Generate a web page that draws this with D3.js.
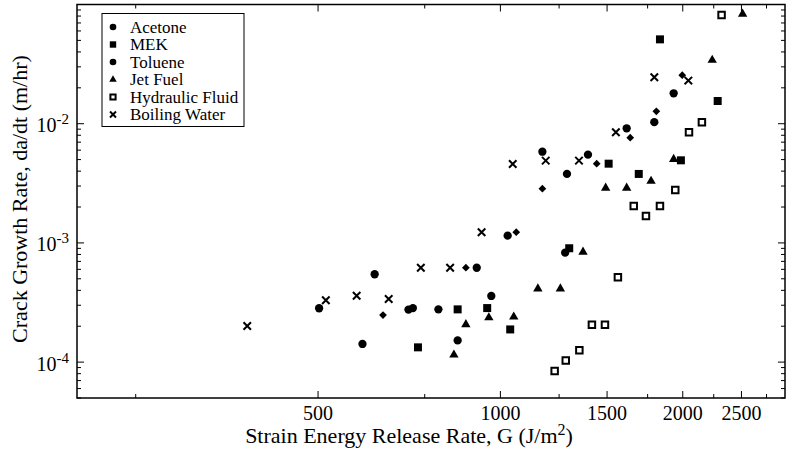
<!DOCTYPE html>
<html>
<head>
<meta charset="utf-8">
<script src="https://cdn.jsdelivr.net/npm/d3@7"></script>
<style>
body{margin:0;background:#fff;}
svg text{font-family:"Liberation Serif","Times New Roman","DejaVu Serif",serif;fill:#000;}
</style>
</head>
<body>
<div id="chart"></div>
<script>

//data: [G (J/m2), da/dt (m/hr)]
let acetone=[[502,2.83e-4],[620,5.46e-4],[592,1.42e-4],[705,2.76e-4],[717,2.84e-4],[790,2.77e-4],[850,1.52e-4],[914,6.19e-4],[966,3.59e-4],[1028,1.15e-3],[1279,8.28e-4],[1173,5.82e-3],[1288,3.79e-3],[1395,5.50e-3],[1616,9.15e-3],[1795,1.03e-2],[1932,1.80e-2]];
let mek=[[731,1.33e-4],[850,2.77e-4],[951,2.84e-4],[1038,1.88e-4],[1299,9.02e-4],[1509,4.62e-3],[1692,3.79e-3],[1986,4.93e-3],[2284,1.55e-2],[1834,5.10e-2]];
let toluene=[[640,2.48e-4],[877,6.19e-4],[1062,1.23e-3],[1173,2.85e-3],[1442,4.62e-3],[1638,7.64e-3],[1809,1.27e-2],[1996,2.55e-2]];
let jetFuel=[[838,1.15e-4],[877,2.07e-4],[957,2.36e-4],[1052,2.40e-4],[1153,4.13e-4],[1256,4.13e-4],[1369,8.40e-4],[1492,2.89e-3],[1616,2.89e-3],[1773,3.30e-3],[1932,5.03e-3],[2237,3.42e-2],[2511,8.33e-2]];
let hydraulic=[[1229,8.42e-5],[1282,1.03e-4],[1350,1.26e-4],[1416,2.06e-4],[1488,2.06e-4],[1563,5.15e-4],[1660,2.04e-3],[1739,1.68e-3],[1834,2.04e-3],[1944,2.78e-3],[2048,8.47e-3],[2151,1.03e-2],[2318,8.17e-2]];
let boilingWater=[[382,2.01e-4],[515,3.30e-4],[579,3.60e-4],[654,3.38e-4],[739,6.19e-4],[826,6.19e-4],[931,1.23e-3],[1048,4.59e-3],[1188,4.90e-3],[1348,4.90e-3],[1551,8.47e-3],[1795,2.45e-2],[2043,2.30e-2]];

let seriesNames=[`Acetone`,`MEK`,`Toluene`,`Jet Fuel`,`Hydraulic Fluid`,`Boiling Water`];
let legendMarks=[`circle`,`square`,`circle`,`triangle`,`open`,`x`];

let xMajor=[500,1000,1500,2000,2500];
let xMinor=[250,750,1250,1750,2250,2750];
let yMajor=[1e-4,1e-3,1e-2];
let yMajorLabels=[`-4`,`-3`,`-2`];

//settings
let W=786,H=459;
let margin={left:77,top:4.5,right:1,bottom:61};
let width=W-margin.left-margin.right;
let height=H-margin.top-margin.bottom;
let serif=`"Liberation Serif","Times New Roman","DejaVu Serif",serif`;

let svg=d3.select(`#chart`).append(`svg`)
    .attr(`width`,W)
    .attr(`height`,H)
    .attr(`font-family`,serif);

let graph=svg.append(`g`)
    .attr(`transform`,`translate(`+margin.left+`,`+margin.top+`)`);

let x=d3.scaleLog().domain([200,2950]).range([0,width]);
let y=d3.scaleLog().domain([5e-5,0.1]).range([height,0]);

//minor y ticks 2..9 in each decade
let yMinor=[];
[1e-5,1e-4,1e-3,1e-2].forEach(d=>{
    for(let k=2;k<=9;k++){
        let v=d*k;
        if(v>=5e-5&&v<=0.1) yMinor.push(v);
    }
});

//frame
graph.append(`rect`)
    .attr(`width`,width)
    .attr(`height`,height)
    .attr(`fill`,`none`)
    .attr(`stroke`,`#000`)
    .attr(`stroke-width`,1.5);

//ticks, pointing inward on all four sides
function xTicks(vals,len){
    let g=graph.append(`g`).attr(`class`,`x ticks`);
    g.selectAll(`line.b`).data(vals).enter().append(`line`)
        .attr(`x1`,d=>x(d)).attr(`x2`,d=>x(d))
        .attr(`y1`,height).attr(`y2`,height-len)
        .attr(`stroke`,`#000`);
    g.selectAll(`line.t`).data(vals).enter().append(`line`)
        .attr(`x1`,d=>x(d)).attr(`x2`,d=>x(d))
        .attr(`y1`,0).attr(`y2`,len)
        .attr(`stroke`,`#000`);
}
function yTicks(vals,len){
    let g=graph.append(`g`).attr(`class`,`y ticks`);
    g.selectAll(`line.l`).data(vals).enter().append(`line`)
        .attr(`y1`,d=>y(d)).attr(`y2`,d=>y(d))
        .attr(`x1`,0).attr(`x2`,len)
        .attr(`stroke`,`#000`);
    g.selectAll(`line.r`).data(vals).enter().append(`line`)
        .attr(`y1`,d=>y(d)).attr(`y2`,d=>y(d))
        .attr(`x1`,width).attr(`x2`,width-len)
        .attr(`stroke`,`#000`);
}
xTicks(xMajor,7);
xTicks(xMinor,4);
yTicks(yMajor,7);
yTicks(yMinor,4);

//tick labels
graph.append(`g`)
    .selectAll(`text`)
    .data(xMajor)
    .enter()
    .append(`text`)
    .attr(`x`,d=>x(d))
    .attr(`y`,height+22)
    .attr(`text-anchor`,`middle`)
    .attr(`font-family`,serif)
    .attr(`font-size`,20)
    .text(d=>d);

let yLab=graph.append(`g`)
    .selectAll(`text`)
    .data(yMajor)
    .enter()
    .append(`text`)
    .attr(`x`,-8)
    .attr(`y`,d=>y(d)+8.5)
    .attr(`text-anchor`,`end`)
    .attr(`font-family`,serif)
    .attr(`font-size`,20);
yLab.append(`tspan`).text(`10`);
yLab.append(`tspan`)
    .attr(`dy`,-8)
    .attr(`font-size`,15)
    .text((d,i)=>yMajorLabels[i]);

//axis titles
let xTitle=svg.append(`text`)
    .attr(`x`,409)
    .attr(`y`,443)
    .attr(`text-anchor`,`middle`)
    .attr(`font-family`,serif)
    .attr(`font-size`,22);
xTitle.append(`tspan`).text(`Strain Energy Release Rate, G (J/m`);
xTitle.append(`tspan`).attr(`dy`,-8).attr(`font-size`,16).text(`2`);
xTitle.append(`tspan`).attr(`dy`,8).text(`)`);

svg.append(`text`)
    .attr(`transform`,`translate(27,199) rotate(-90)`)
    .attr(`text-anchor`,`middle`)
    .attr(`font-family`,serif)
    .attr(`font-size`,22)
    .text(`Crack Growth Rate, da/dt (m/hr)`);

//marker shapes
let xShape={draw:function(ctx,size){
    let r=Math.sqrt(size)/2;
    ctx.moveTo(-r,-r);ctx.lineTo(r,r);
    ctx.moveTo(-r,r);ctx.lineTo(r,-r);
}};

function drawMark(sel,kind,scale){
    let s=scale||1;
    if(kind===`circle`)
        sel.attr(`d`,d3.symbol().type(d3.symbolCircle).size(54*s*s)).attr(`fill`,`#000`);
    else if(kind===`square`)
        sel.attr(`d`,d3.symbol().type(d3.symbolSquare).size(64*s*s)).attr(`fill`,`#000`);
    else if(kind===`diamond`)
        sel.attr(`d`,d3.symbol().type(d3.symbolSquare).size(30*s*s)).attr(`fill`,`#000`).attr(`rot`,45);
    else if(kind===`triangle`)
        sel.attr(`d`,d3.symbol().type(d3.symbolTriangle).size(38*s*s)).attr(`fill`,`#000`);
    else if(kind===`open`)
        sel.attr(`d`,d3.symbol().type(d3.symbolSquare).size(42*s*s)).attr(`fill`,`#fff`).attr(`stroke`,`#000`).attr(`stroke-width`,2);
    else if(kind===`x`)
        sel.attr(`d`,d3.symbol().type(xShape).size(56*s*s)).attr(`fill`,`none`).attr(`stroke`,`#000`).attr(`stroke-width`,2);
}

//Data insert
let plotSeries=[
    {data:hydraulic,kind:`open`},
    {data:boilingWater,kind:`x`},
    {data:toluene,kind:`diamond`},
    {data:acetone,kind:`circle`},
    {data:mek,kind:`square`},
    {data:jetFuel,kind:`triangle`}
];

plotSeries.forEach(s=>{
    let marks=graph.append(`g`)
        .attr(`class`,`dot graph`)
        .selectAll(`path`)
        .data(s.data)
        .enter()
        .append(`path`);
    drawMark(marks,s.kind);
    marks.attr(`transform`,d=>{
        let r=marks.attr(`rot`)?` rotate(45)`:``;
        return `translate(`+x(d[0])+`,`+y(d[1])+`)`+r;
    });
});

//legend
let legend=svg.append(`g`).attr(`class`,`legend`);
legend.append(`rect`)
    .attr(`x`,102).attr(`y`,13.5)
    .attr(`width`,142).attr(`height`,113)
    .attr(`fill`,`#fff`)
    .attr(`stroke`,`#000`);

seriesNames.forEach((name,i)=>{
    let cy=27+i*17.5;
    let m=legend.append(`path`)
        .attr(`transform`,`translate(113,`+cy+`)`);
    drawMark(m,legendMarks[i],0.8);
    legend.append(`text`)
        .attr(`x`,130)
        .attr(`y`,cy+5.5)
        .attr(`font-family`,serif)
        .attr(`font-size`,17)
        .text(name);
});

</script>
</body>
</html>
